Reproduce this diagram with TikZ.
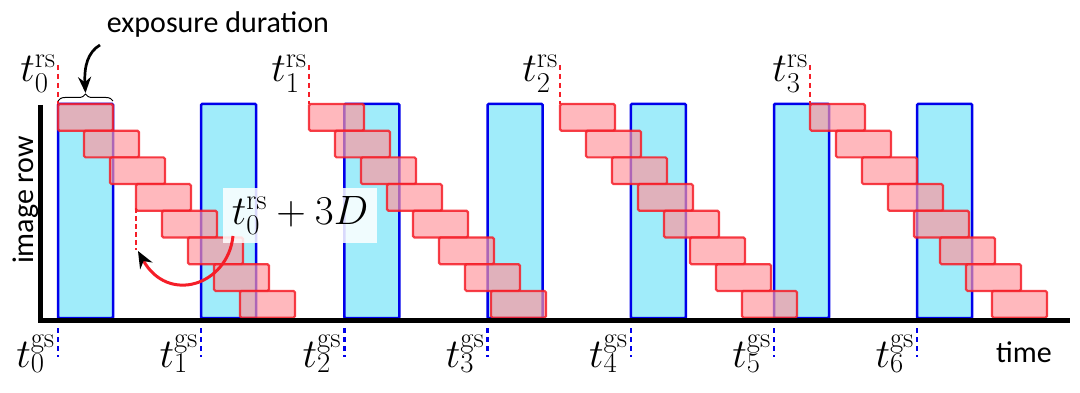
\documentclass[tikz,border=0pt]{standalone}
\usepackage{fix-cm}
\usepackage{fontspec}
\newfontfamily\carl{Carlito}
\usetikzlibrary{arrows.meta,decorations.pathreplacing}
\definecolor{cyanf}{RGB}{160,236,250}
\definecolor{blueb}{RGB}{0,0,235}
\definecolor{redb}{RGB}{245,30,40}
\definecolor{pinkf}{RGB}{255,150,158}
\tikzset{
 gsbox/.style={draw=blueb, fill=cyanf, line width=2.5pt, rounded corners=1pt},
 rsbox/.style={draw=redb, draw opacity=0.85, fill=pinkf, fill opacity=0.68, line width=2.2pt, rounded corners=1.5pt},
 mathlbl/.style={font=\fontsize{41}{45}\selectfont, inner sep=0pt},
 sanslbl/.style={font=\carl\fontsize{30}{34}\selectfont, inner sep=0pt},
 rsdash/.style={draw=redb, line width=2.5pt, dash pattern=on 5pt off 4pt},
 gsdash/.style={draw=blueb, line width=2.5pt, dash pattern=on 5pt off 4pt},
 axisline/.style={line width=5pt},
 tiparrow/.style={-{Stealth[length=16pt,width=13pt]}, line width=2.7pt}
}
\begin{document}
\begin{tikzpicture}[x=1pt,y=-1pt]
\useasboundingbox (0,0) rectangle (1080,393);
% global shutter exposures
\foreach \k in {0,...,6} {
  \pgfmathsetmacro\xs{58+143.2*\k}
  \draw[gsbox] (\xs,104) rectangle ++(55,214);
}
% rolling shutter exposures
\foreach \x [count=\i from 0] in {58,309,560,810} {
  \foreach \r in {0,...,7} {
    \draw[rsbox] (\x+26*\r,104+26.7*\r) rectangle ++(55,26.7);
  }
  \draw[rsdash] (\x,65) -- (\x,104);
  \node[mathlbl, anchor=base east] (rs\i) at (\x-2,82) {$t_{\i}^{\mathrm{rs}}$};
}
% axes
\draw[axisline] (40.5,105) -- (40.5,320.5) -- (1070,320.5);
% gs ticks
\foreach \k in {0,...,6} {
  \pgfmathsetmacro\xs{58+143.2*\k}
  \draw[gsdash] (\xs,328) -- (\xs,357);
  \node[mathlbl, anchor=base east] (gs\k) at (\xs-3,367) {$t_{\k}^{\mathrm{gs}}$};
}
% exposure duration
\node[sanslbl, anchor=base] (expo) at (218,33) {exposure duration};
\coordinate (bl) at (58,101);
\coordinate (br) at (113,101);
\draw[decorate, decoration={brace, amplitude=7pt}, line width=1pt] (bl) -- (br);
\coordinate (ea) at (100,45);
\coordinate (eb) at (85.5,93);
\draw[tiparrow] (ea) .. controls (88,52) and (84,66) .. (eb);
% t0 + 3D
\node[mathlbl, fill=white, fill opacity=0.85, text opacity=1, minimum width=154pt, minimum height=55pt] (lbl) at (300,215.5) {$t_0^{\mathrm{rs}}+3D$};
\draw[rsdash, line width=2pt, dash pattern=on 5pt off 3pt] (136,208) -- (136,250);
\coordinate (rtip) at (138,251);
\draw[draw=redb, line width=3pt, -{Stealth[black,length=17pt,width=14pt]}] (233,236) .. controls (228,285) and (168,305) .. (rtip);
% axis labels
\node[sanslbl, rotate=90] (ylab) at (26,200) {image row};
\node[sanslbl, anchor=base] (xlab) at (1024,362) {time};
\end{tikzpicture}
\end{document}
